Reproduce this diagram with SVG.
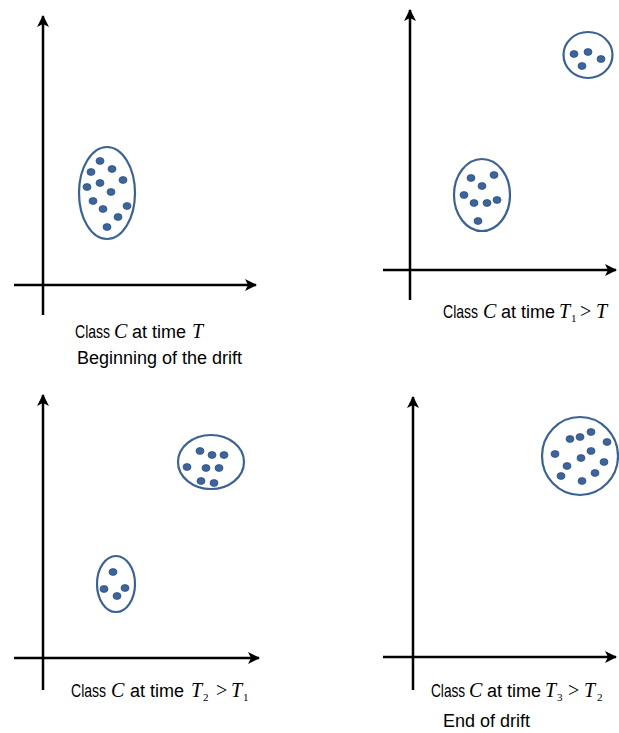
<svg xmlns="http://www.w3.org/2000/svg" width="619" height="733" viewBox="0 0 619 733">
<style>
.ax{stroke:#000;stroke-width:2.5;fill:none;marker-end:url(#ah)}
.cl{fill:#fff;stroke:#3b6293;stroke-width:2.2}
.dt{fill:#3d659b;stroke:#2d5183;stroke-width:0.8}
.sans{font-family:"Liberation Sans",Arial,sans-serif;font-size:18px;fill:#000}
.math{font-family:"Liberation Serif","Times New Roman",serif;font-style:italic;font-size:20px;fill:#000}
.sub{font-family:"Liberation Serif","Times New Roman",serif;font-size:11px;fill:#000}
.rel{font-family:"Liberation Serif","Times New Roman",serif;font-size:20px;fill:#000}
</style>
<defs>
<marker id="ah" markerUnits="userSpaceOnUse" markerWidth="14" markerHeight="12" refX="11" refY="6" orient="auto">
<path d="M0,0 L12,6 L0,12 L3,6 z" fill="#000"/>
</marker>
<ellipse id="d" rx="4" ry="3.4" class="dt"/>
</defs>
<g id="connectors">
<line class="ax" x1="43" y1="315" x2="43" y2="16"/>
<line class="ax" x1="14" y1="285" x2="256" y2="285"/>
<line class="ax" x1="410" y1="300" x2="410" y2="10"/>
<line class="ax" x1="383" y1="270" x2="616" y2="270"/>
<line class="ax" x1="43" y1="690" x2="43" y2="395"/>
<line class="ax" x1="14" y1="658" x2="259" y2="658"/>
<line class="ax" x1="413" y1="690" x2="413" y2="397"/>
<line class="ax" x1="383" y1="657" x2="616" y2="657"/>
</g>
<g id="cluster1">
<ellipse class="cl" cx="107" cy="193" rx="28" ry="46"/>
<use href="#d" x="100" y="161"/><use href="#d" x="91" y="172"/><use href="#d" x="112" y="169"/>
<use href="#d" x="123" y="180"/><use href="#d" x="87" y="187"/><use href="#d" x="100" y="183"/>
<use href="#d" x="111" y="192"/><use href="#d" x="93" y="201"/><use href="#d" x="127" y="206"/>
<use href="#d" x="103" y="209"/><use href="#d" x="118" y="217"/><use href="#d" x="107" y="227"/>
</g>
<g id="cluster2a">
<ellipse class="cl" cx="482" cy="195" rx="28" ry="36"/>
<use href="#d" x="471" y="178"/><use href="#d" x="494" y="175"/><use href="#d" x="482" y="186"/>
<use href="#d" x="464" y="195"/><use href="#d" x="474" y="203"/><use href="#d" x="487" y="203"/>
<use href="#d" x="497" y="200"/><use href="#d" x="478" y="221"/>
</g>
<g id="cluster2b">
<ellipse class="cl" cx="588" cy="55" rx="24.5" ry="23"/>
<use href="#d" x="574" y="54"/><use href="#d" x="588" y="52"/><use href="#d" x="601" y="59"/><use href="#d" x="582" y="66"/>
</g>
<g id="cluster3a">
<ellipse class="cl" cx="211" cy="462" rx="33" ry="27"/>
<use href="#d" x="200" y="451"/><use href="#d" x="212" y="455"/><use href="#d" x="224" y="455"/>
<use href="#d" x="187" y="467"/><use href="#d" x="206" y="468"/><use href="#d" x="219" y="468"/>
<use href="#d" x="201" y="481"/><use href="#d" x="214" y="483"/>
</g>
<g id="cluster3b">
<ellipse class="cl" cx="116" cy="584" rx="19" ry="28"/>
<use href="#d" x="113" y="572"/><use href="#d" x="104" y="589"/><use href="#d" x="117" y="596"/><use href="#d" x="125" y="588"/>
</g>
<g id="cluster4">
<ellipse class="cl" cx="580" cy="456" rx="38" ry="39"/>
<use href="#d" x="570" y="439"/><use href="#d" x="580" y="437"/><use href="#d" x="591" y="432"/>
<use href="#d" x="607" y="442"/><use href="#d" x="591" y="451"/><use href="#d" x="555" y="454"/>
<use href="#d" x="581" y="458"/><use href="#d" x="567" y="466"/><use href="#d" x="604" y="462"/>
<use href="#d" x="561" y="476"/><use href="#d" x="595" y="473"/><use href="#d" x="582" y="481"/>
</g>
<g id="label1">
<text class="sans" transform="translate(75,338) scale(0.78,1)">Class</text>
<text class="math" x="114" y="338">C</text>
<text class="sans" x="132" y="338">at time</text>
<text class="math" x="192" y="338">T</text>
<text class="sans" x="77" y="364">Beginning of the drift</text>
</g>
<g id="label2">
<text class="sans" transform="translate(443,318) scale(0.78,1)">Class</text>
<text class="math" x="483" y="318">C</text>
<text class="sans" x="501" y="318">at time</text>
<text class="math" x="559" y="318">T</text>
<text class="sub" x="571" y="322">1</text>
<text class="rel" x="580" y="318">&gt;</text>
<text class="math" x="596" y="318">T</text>
</g>
<g id="label3">
<text class="sans" transform="translate(71,697) scale(0.78,1)">Class</text>
<text class="math" x="111" y="697">C</text>
<text class="sans" x="130" y="697">at time</text>
<text class="math" x="191" y="697">T</text>
<text class="sub" x="203" y="701">2</text>
<text class="rel" x="216" y="697">&gt;</text>
<text class="math" x="231" y="697">T</text>
<text class="sub" x="243" y="701">1</text>
</g>
<g id="label4">
<text class="sans" transform="translate(431,697) scale(0.76,1)">Class</text>
<text class="math" x="469" y="697">C</text>
<text class="sans" x="487" y="697">at time</text>
<text class="math" x="545" y="697">T</text>
<text class="sub" x="557" y="701">3</text>
<text class="rel" x="568" y="697">&gt;</text>
<text class="math" x="584" y="697">T</text>
<text class="sub" x="597" y="701">2</text>
<text class="sans" x="443" y="727">End of drift</text>
</g>
</svg>
